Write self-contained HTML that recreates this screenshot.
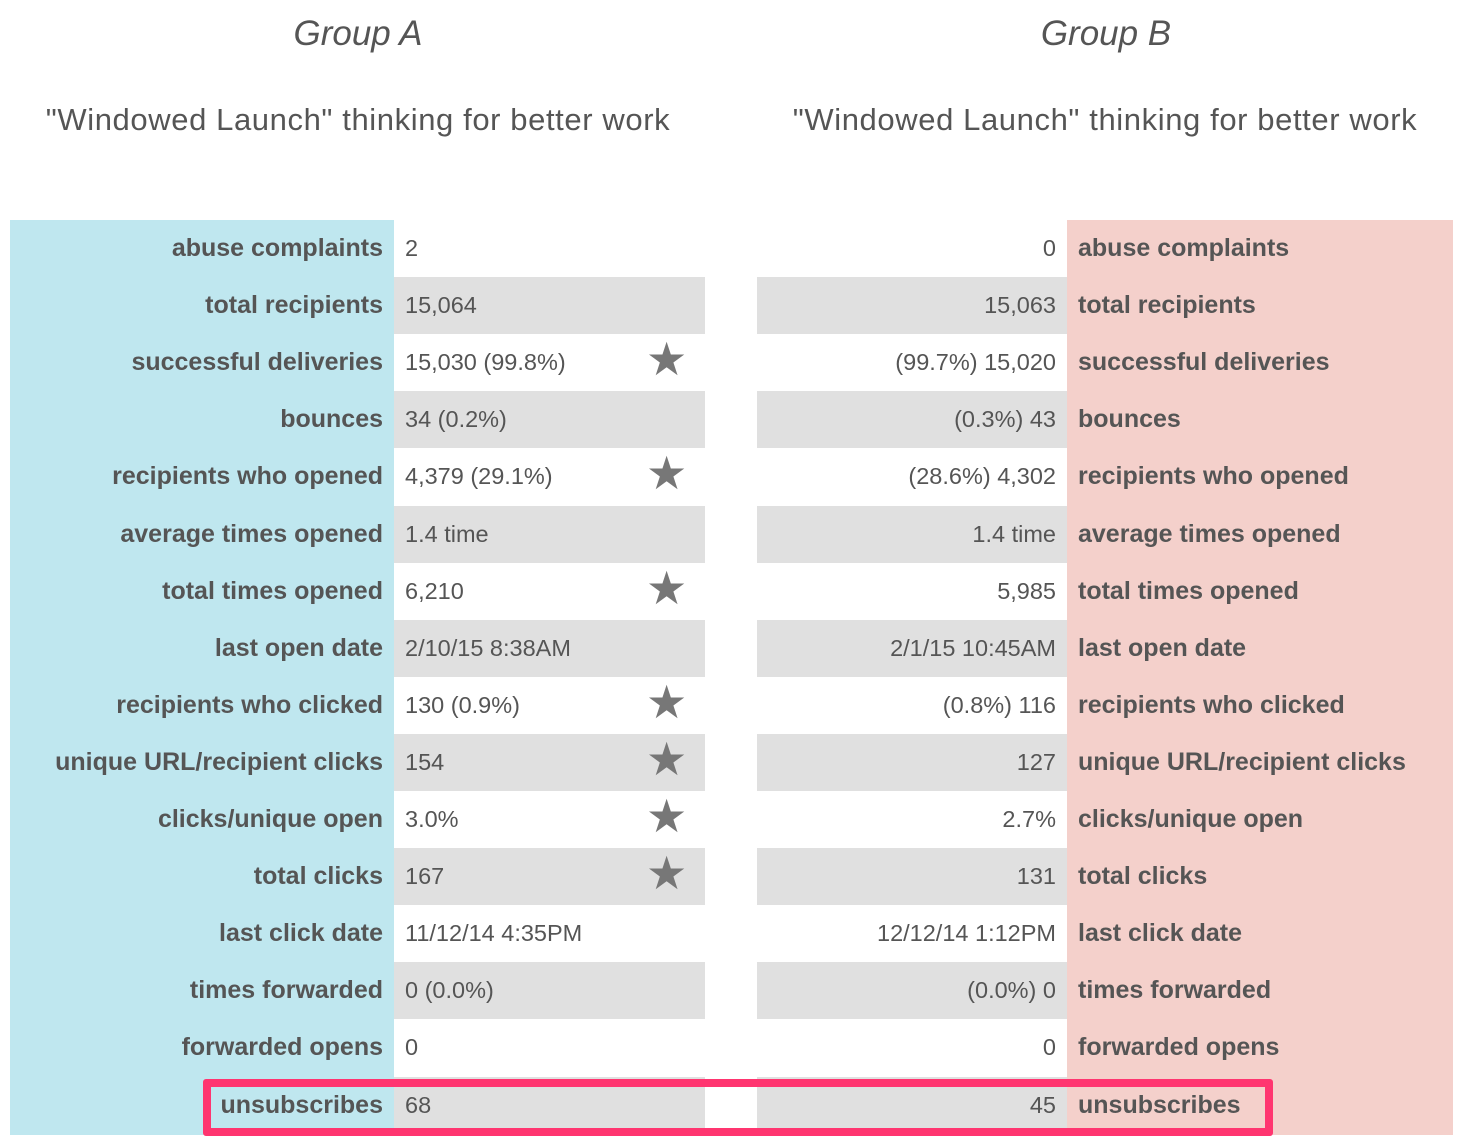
<!DOCTYPE html>
<html><head><meta charset="utf-8"><style>
body{margin:0;width:1458px;height:1140px;background:#fff;position:relative;overflow:hidden;font-family:"Liberation Sans",sans-serif;color:#555}
.abs{position:absolute}
.t{font-style:italic;font-size:35px;text-align:center;width:500px;top:14px}
.s{font-size:31px;letter-spacing:0.6px;text-align:center;width:760px;top:102px;white-space:nowrap}
.cell{position:absolute;height:57px;line-height:57px;font-size:23.5px;white-space:nowrap;box-sizing:border-box}
.lab{font-weight:bold;font-size:25px}
.star{position:absolute;font-size:46px;color:#777;line-height:57px;width:40px;text-align:center}
</style></head><body>
<div class="abs t" style="left:108px">Group A</div>
<div class="abs t" style="left:856px">Group B</div>
<div class="abs s" style="left:-22px">"Windowed Launch" thinking for better work</div>
<div class="abs s" style="left:725px">"Windowed Launch" thinking for better work</div>
<div class="abs" style="left:10px;top:220px;width:384px;height:915px;background:#bfe7ef"></div>
<div class="abs" style="left:1067px;top:220px;width:386px;height:915px;background:#f4d0cb"></div>
<div id="rows"></div>
<div class="abs" style="left:203px;top:1079px;width:1070px;height:57px;border:8px solid #ff3570;box-sizing:border-box;border-radius:3px"></div>
<script>
const labels=["abuse complaints","total recipients","successful deliveries","bounces","recipients who opened","average times opened","total times opened","last open date","recipients who clicked","unique URL/recipient clicks","clicks/unique open","total clicks","last click date","times forwarded","forwarded opens","unsubscribes"];
const valuesA=["2","15,064","15,030 (99.8%)","34 (0.2%)","4,379 (29.1%)","1.4 time","6,210","2/10/15 8:38AM","130 (0.9%)","154","3.0%","167","11/12/14 4:35PM","0 (0.0%)","0","68"];
const valuesB=["0","15,063","(99.7%) 15,020","(0.3%) 43","(28.6%) 4,302","1.4 time","5,985","2/1/15 10:45AM","(0.8%) 116","127","2.7%","131","12/12/14 1:12PM","(0.0%) 0","0","45"];
const starsA=[0,0,1,0,1,0,1,0,1,1,1,1,0,0,0,0];
const c=document.getElementById('rows');
labels.forEach((l,i)=>{
  const y=220+i*57.1;
  const gray=i%2===1;
  function mk(x,w,txt,cls,align,bg,name){
    const d=document.createElement('div');
    d.className='cell '+cls;
    d.style.left=x+'px';d.style.top=y+'px';d.style.width=w+'px';d.style.textAlign=align;
    if(bg)d.style.background=bg;
    d.textContent=txt;
    
    
    c.appendChild(d);return d;
  }
  const la=mk(10,384,l,'lab','right',null,'group-a-label');la.style.paddingRight='11px';
  const va=mk(394,311,valuesA[i],'','left',gray?'#e0e0e0':null,'group-a-value');va.style.paddingLeft='11px';
  const vb=mk(757,310,valuesB[i],'','right',gray?'#e0e0e0':null,'group-b-value');vb.style.paddingRight='11px';
  const lb=mk(1067,386,l,'lab','left',null,'group-b-label');lb.style.paddingLeft='11px';
  if(starsA[i]){
    const s=document.createElement('div');
    s.className='star';s.style.left='646px';s.style.top=(y-3)+'px';s.textContent='★';
    
    
    c.appendChild(s);
  }
});
</script>
</body></html>
